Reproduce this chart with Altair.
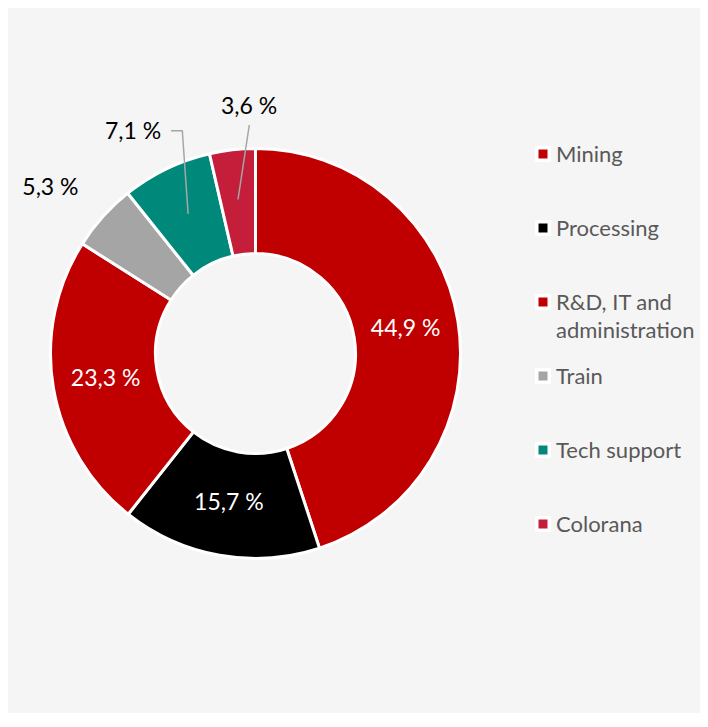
import math
import textwrap
import numpy as np
import pandas as pd
import altair as alt

# ---- data ----
categories = ["Mining", "Processing", "R&D, IT and administration", "Train", "Tech support", "Colorana"]
shares = [44.9, 15.7, 23.3, 5.3, 7.1, 3.6]
colors = ["#C00000", "#000000", "#C00000", "#A5A5A5", "#00897B", "#C41E3A"]
inside_labels = ["Mining", "Processing", "R&D, IT and administration"]

# ---- layout / style constants ----
W, H = 692, 705
CX, CY = 247.5, 345.5
R_OUT, R_IN, R_LAB, R_OUTLAB, R_LEADER = 205, 100, 152, 250, 155
FONT = "Lato"
outside_offsets = {"Train": (-19, 1), "Tech support": (-13.7, 3.7), "Colorana": (21.8, 2.3)}
leader_outer = {"Tech support": [(163.0, 122.7), (174.3, 122.7)], "Colorana": [(241.3, 117.0)]}

df = pd.DataFrame({"category": categories, "value": shares, "idx": list(range(len(categories)))})
df["label"] = [f"{v:.1f}".replace(".", ",") + " %" for v in shares]
df["inlabel"] = [l if c in inside_labels else "" for l, c in zip(df["label"], categories)]
df["legend_label"] = [textwrap.fill(c, 13, break_long_words=False) for c in categories]

# leader lines: inner end point at the slice's middle angle
total = sum(shares)
cum = np.cumsum(shares)
rows = []
for i, c in enumerate(categories):
    if c in leader_outer:
        mid = (cum[i] - shares[i] / 2) / total * 2 * math.pi
        pts = leader_outer[c] + [(CX + R_LEADER * math.sin(mid), CY - R_LEADER * math.cos(mid))]
        for s, (px, py) in enumerate(pts):
            rows.append({"category": c, "seq": s, "x": px, "y": py})
leaders = pd.DataFrame(rows)

color_scale = alt.Scale(domain=categories, range=colors)
theta = alt.Theta("value:Q", stack=True)
order = alt.Order("idx:Q")

base = alt.Chart(df)

arcs = base.mark_arc(innerRadius=R_IN, outerRadius=R_OUT, stroke="#ffffff", strokeWidth=3).encode(
    theta=theta, order=order,
    color=alt.Color("category:N", scale=color_scale, legend=None),
    x=alt.value(CX), y=alt.value(CY),
)

in_text = base.mark_text(radius=R_LAB, font=FONT, fontSize=23, color="white").encode(
    theta=theta, order=order, text="inlabel:N", x=alt.value(CX), y=alt.value(CY),
)

out_layers = []
for c, (dx, dy) in outside_offsets.items():
    out_layers.append(
        base.transform_calculate(t=f"datum.category == '{c}' ? datum.label : ''")
        .mark_text(radius=R_OUTLAB, font=FONT, fontSize=23, color="#000000", dx=dx, dy=dy)
        .encode(theta=theta, order=order, text="t:N", x=alt.value(CX), y=alt.value(CY))
    )

lines = alt.Chart(leaders).mark_line(color="#A6A6A6", strokeWidth=1.5).encode(
    x=alt.X("x:Q", scale=alt.Scale(domain=[0, W], range=[0, W], nice=False, zero=False), axis=None),
    y=alt.Y("y:Q", scale=alt.Scale(domain=[0, H], range=[0, H], nice=False, zero=False), axis=None),
    detail="category:N", order="seq:Q",
)

leg_y = alt.Y("category:N", scale=alt.Scale(type="point", domain=categories, range=[146, 516], padding=0), axis=None)
leg_bg = base.mark_square(size=256, color="#ffffff", opacity=1).encode(x=alt.value(535), y=leg_y)
leg_sq = base.mark_square(size=81, opacity=1).encode(
    x=alt.value(535), y=leg_y, color=alt.Color("category:N", scale=color_scale, legend=None)
)
leg_txt = base.mark_text(font=FONT, fontSize=22, color="#595959", align="left", baseline="alphabetic",
                         dy=8, lineBreak="\n", lineHeight=28).encode(
    x=alt.value(548), y=leg_y, text="legend_label:N"
)

chart = alt.layer(arcs, in_text, *out_layers, lines, leg_bg, leg_sq, leg_txt).resolve_scale(
    x="independent", y="independent"
).properties(
    width=W, height=H, autosize=alt.AutoSizeParams(type="none"), padding=0, background="#F5F5F5"
).configure_view(stroke=None)

chart.save("out.html", embed_options={"renderer": "svg", "actions": False})
